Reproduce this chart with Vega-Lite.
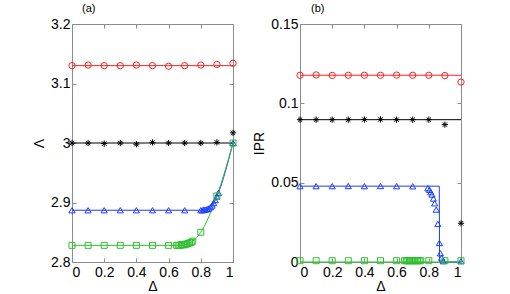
{
  "$schema": "https://vega.github.io/schema/vega-lite/v6.json",
  "padding": {"left": 32, "top": 2, "right": 5, "bottom": 0},
  "spacing": 13,
  "config": {
    "view": {"stroke": "#8c8c8c", "strokeWidth": 1},
    "font": "Liberation Sans",
    "axis": {"domain": false, "grid": false, "ticks": true, "tickSize": -4, "tickColor": "#8c8c8c", "labelFont": "Liberation Sans", "labelFontSize": 14, "labelColor": "#000", "labelPadding": 6, "titleFont": "Liberation Sans", "titleFontSize": 14, "titleFontWeight": "normal", "titleColor": "#000", "titlePadding": 4},
    "axisBottom": {"labelPadding": 7, "titlePadding": 0},
    "title": {"fontSize": 11, "fontWeight": "normal", "anchor": "start", "frame": "group", "font": "Liberation Sans", "color": "#000"}
  },
  "datasets": {
    "d": [
      {"p":"a","k":"l","s":"r","x":0,"y":3.13},{"p":"a","k":"l","s":"r","x":1,"y":3.13},
      {"p":"a","k":"l","s":"k","x":0,"y":3.0},{"p":"a","k":"l","s":"k","x":1,"y":3.0},
      {"p":"a","k":"l","s":"b","x":0,"y":2.887},{"p":"a","k":"l","s":"b","x":0.8,"y":2.887},{"p":"a","k":"l","s":"b","x":0.83,"y":2.888},{"p":"a","k":"l","s":"b","x":0.86,"y":2.892},{"p":"a","k":"l","s":"b","x":0.88,"y":2.899},{"p":"a","k":"l","s":"b","x":0.9,"y":2.91},{"p":"a","k":"l","s":"b","x":1,"y":3.0},
      {"p":"a","k":"l","s":"g","x":0,"y":2.828},{"p":"a","k":"l","s":"g","x":0.65,"y":2.828},{"p":"a","k":"l","s":"g","x":0.7,"y":2.829},{"p":"a","k":"l","s":"g","x":0.75,"y":2.835},{"p":"a","k":"l","s":"g","x":0.8,"y":2.85},{"p":"a","k":"l","s":"g","x":0.9,"y":2.911},{"p":"a","k":"l","s":"g","x":1,"y":3.0},

      {"p":"a","k":"p","s":"r","x":0,"y":3.13},{"p":"a","k":"p","s":"r","x":0.1,"y":3.131},{"p":"a","k":"p","s":"r","x":0.2,"y":3.13},{"p":"a","k":"p","s":"r","x":0.3,"y":3.13},{"p":"a","k":"p","s":"r","x":0.4,"y":3.131},{"p":"a","k":"p","s":"r","x":0.5,"y":3.13},{"p":"a","k":"p","s":"r","x":0.6,"y":3.129},{"p":"a","k":"p","s":"r","x":0.7,"y":3.13},{"p":"a","k":"p","s":"r","x":0.8,"y":3.131},{"p":"a","k":"p","s":"r","x":0.9,"y":3.132},{"p":"a","k":"p","s":"r","x":1,"y":3.134},
      {"p":"a","k":"p","s":"k","x":0,"y":3.0},{"p":"a","k":"p","s":"k","x":0.1,"y":3.0},{"p":"a","k":"p","s":"k","x":0.2,"y":2.999},{"p":"a","k":"p","s":"k","x":0.3,"y":3.0},{"p":"a","k":"p","s":"k","x":0.4,"y":2.998},{"p":"a","k":"p","s":"k","x":0.5,"y":3.001},{"p":"a","k":"p","s":"k","x":0.6,"y":3.0},{"p":"a","k":"p","s":"k","x":0.7,"y":3.0},{"p":"a","k":"p","s":"k","x":0.8,"y":3.0},{"p":"a","k":"p","s":"k","x":0.9,"y":3.001},{"p":"a","k":"p","s":"k","x":1,"y":3.017},
      {"p":"a","k":"p","s":"b","x":0,"y":2.887},{"p":"a","k":"p","s":"b","x":0.1,"y":2.887},{"p":"a","k":"p","s":"b","x":0.2,"y":2.887},{"p":"a","k":"p","s":"b","x":0.3,"y":2.887},{"p":"a","k":"p","s":"b","x":0.4,"y":2.887},{"p":"a","k":"p","s":"b","x":0.5,"y":2.887},{"p":"a","k":"p","s":"b","x":0.6,"y":2.887},{"p":"a","k":"p","s":"b","x":0.7,"y":2.887},
      {"p":"a","k":"p","s":"b","x":0.8,"y":2.887},{"p":"a","k":"p","s":"b","x":0.81,"y":2.887},{"p":"a","k":"p","s":"b","x":0.82,"y":2.888},{"p":"a","k":"p","s":"b","x":0.83,"y":2.888},{"p":"a","k":"p","s":"b","x":0.84,"y":2.889},{"p":"a","k":"p","s":"b","x":0.85,"y":2.89},{"p":"a","k":"p","s":"b","x":0.86,"y":2.892},{"p":"a","k":"p","s":"b","x":0.87,"y":2.895},{"p":"a","k":"p","s":"b","x":0.88,"y":2.899},{"p":"a","k":"p","s":"b","x":0.89,"y":2.904},{"p":"a","k":"p","s":"b","x":0.9,"y":2.91},{"p":"a","k":"p","s":"b","x":0.91,"y":2.916},{"p":"a","k":"p","s":"b","x":1,"y":3.0},
      {"p":"a","k":"p","s":"g","x":0,"y":2.828},{"p":"a","k":"p","s":"g","x":0.1,"y":2.828},{"p":"a","k":"p","s":"g","x":0.2,"y":2.828},{"p":"a","k":"p","s":"g","x":0.3,"y":2.828},{"p":"a","k":"p","s":"g","x":0.4,"y":2.828},{"p":"a","k":"p","s":"g","x":0.5,"y":2.828},{"p":"a","k":"p","s":"g","x":0.6,"y":2.828},
      {"p":"a","k":"p","s":"g","x":0.65,"y":2.828},{"p":"a","k":"p","s":"g","x":0.66,"y":2.828},{"p":"a","k":"p","s":"g","x":0.67,"y":2.828},{"p":"a","k":"p","s":"g","x":0.68,"y":2.829},{"p":"a","k":"p","s":"g","x":0.69,"y":2.829},{"p":"a","k":"p","s":"g","x":0.7,"y":2.829},{"p":"a","k":"p","s":"g","x":0.71,"y":2.83},{"p":"a","k":"p","s":"g","x":0.72,"y":2.831},{"p":"a","k":"p","s":"g","x":0.73,"y":2.832},{"p":"a","k":"p","s":"g","x":0.74,"y":2.833},{"p":"a","k":"p","s":"g","x":0.75,"y":2.835},
      {"p":"a","k":"p","s":"g","x":0.8,"y":2.85},{"p":"a","k":"p","s":"g","x":0.9,"y":2.911},{"p":"a","k":"p","s":"g","x":1,"y":3.0},

      {"p":"b","k":"l","s":"r","x":0,"y":0.1177},{"p":"b","k":"l","s":"r","x":1,"y":0.1177},
      {"p":"b","k":"l","s":"k","x":0,"y":0.0897},{"p":"b","k":"l","s":"k","x":1,"y":0.0897},
      {"p":"b","k":"l","s":"b","x":0,"y":0.0478},{"p":"b","k":"l","s":"b","x":0.865,"y":0.0478},{"p":"b","k":"l","s":"b","x":0.867,"y":0},{"p":"b","k":"l","s":"b","x":1,"y":0},
      {"p":"b","k":"l","s":"g","x":0,"y":0},{"p":"b","k":"l","s":"g","x":1,"y":0},

      {"p":"b","k":"p","s":"r","x":0,"y":0.1177},{"p":"b","k":"p","s":"r","x":0.1,"y":0.1179},{"p":"b","k":"p","s":"r","x":0.2,"y":0.1176},{"p":"b","k":"p","s":"r","x":0.3,"y":0.1177},{"p":"b","k":"p","s":"r","x":0.4,"y":0.1177},{"p":"b","k":"p","s":"r","x":0.5,"y":0.1177},{"p":"b","k":"p","s":"r","x":0.6,"y":0.1178},{"p":"b","k":"p","s":"r","x":0.7,"y":0.1177},{"p":"b","k":"p","s":"r","x":0.8,"y":0.1177},{"p":"b","k":"p","s":"r","x":0.9,"y":0.1175},{"p":"b","k":"p","s":"r","x":1,"y":0.1134},
      {"p":"b","k":"p","s":"k","x":0,"y":0.0897},{"p":"b","k":"p","s":"k","x":0.1,"y":0.0897},{"p":"b","k":"p","s":"k","x":0.2,"y":0.0897},{"p":"b","k":"p","s":"k","x":0.3,"y":0.0897},{"p":"b","k":"p","s":"k","x":0.4,"y":0.0898},{"p":"b","k":"p","s":"k","x":0.5,"y":0.0899},{"p":"b","k":"p","s":"k","x":0.6,"y":0.0897},{"p":"b","k":"p","s":"k","x":0.7,"y":0.0897},{"p":"b","k":"p","s":"k","x":0.8,"y":0.0897},{"p":"b","k":"p","s":"k","x":0.9,"y":0.0866},{"p":"b","k":"p","s":"k","x":1,"y":0.0244},
      {"p":"b","k":"p","s":"b","x":0,"y":0.0478},{"p":"b","k":"p","s":"b","x":0.1,"y":0.0478},{"p":"b","k":"p","s":"b","x":0.2,"y":0.0478},{"p":"b","k":"p","s":"b","x":0.3,"y":0.0479},{"p":"b","k":"p","s":"b","x":0.4,"y":0.0478},{"p":"b","k":"p","s":"b","x":0.5,"y":0.0479},{"p":"b","k":"p","s":"b","x":0.6,"y":0.0478},{"p":"b","k":"p","s":"b","x":0.7,"y":0.0477},
      {"p":"b","k":"p","s":"b","x":0.794,"y":0.0465},{"p":"b","k":"p","s":"b","x":0.804,"y":0.0455},{"p":"b","k":"p","s":"b","x":0.812,"y":0.044},{"p":"b","k":"p","s":"b","x":0.82,"y":0.0425},{"p":"b","k":"p","s":"b","x":0.829,"y":0.04},{"p":"b","k":"p","s":"b","x":0.836,"y":0.037},{"p":"b","k":"p","s":"b","x":0.846,"y":0.033},{"p":"b","k":"p","s":"b","x":0.856,"y":0.024},{"p":"b","k":"p","s":"b","x":0.866,"y":0.012},{"p":"b","k":"p","s":"b","x":0.872,"y":0.0055},{"p":"b","k":"p","s":"b","x":0.88,"y":0.0028},{"p":"b","k":"p","s":"b","x":0.89,"y":0.0005},{"p":"b","k":"p","s":"b","x":1,"y":0.0005},
      {"p":"b","k":"p","s":"g","x":0,"y":0.0008},{"p":"b","k":"p","s":"g","x":0.1,"y":0.0008},{"p":"b","k":"p","s":"g","x":0.2,"y":0.0008},{"p":"b","k":"p","s":"g","x":0.3,"y":0.0008},{"p":"b","k":"p","s":"g","x":0.4,"y":0.0008},{"p":"b","k":"p","s":"g","x":0.5,"y":0.0008},{"p":"b","k":"p","s":"g","x":0.6,"y":0.0008},
      {"p":"b","k":"p","s":"g","x":0.65,"y":0.0008},{"p":"b","k":"p","s":"g","x":0.66,"y":0.0008},{"p":"b","k":"p","s":"g","x":0.67,"y":0.0008},{"p":"b","k":"p","s":"g","x":0.68,"y":0.0008},{"p":"b","k":"p","s":"g","x":0.69,"y":0.0008},{"p":"b","k":"p","s":"g","x":0.7,"y":0.0008},{"p":"b","k":"p","s":"g","x":0.71,"y":0.0008},{"p":"b","k":"p","s":"g","x":0.72,"y":0.0008},{"p":"b","k":"p","s":"g","x":0.73,"y":0.0008},{"p":"b","k":"p","s":"g","x":0.74,"y":0.0008},{"p":"b","k":"p","s":"g","x":0.75,"y":0.0008},
      {"p":"b","k":"p","s":"g","x":0.8,"y":0.0008},{"p":"b","k":"p","s":"g","x":0.9,"y":0.0008},{"p":"b","k":"p","s":"g","x":1,"y":0.0008}
    ]
  },
  "hconcat": [
    {
      "width": 161, "height": 238,
      "title": {"text": "(a)", "dx": 10, "offset": 3},
      "data": {"name": "d"},
      "transform": [{"filter": "datum.p == 'a'"}],
      "layer": [
        {
          "transform": [{"filter": "datum.k == 'l'"}],
          "mark": {"type": "line", "strokeWidth": 1, "interpolate": "monotone"},
          "encoding": {
            "x": {"field": "x", "type": "quantitative", "scale": {"domain": [0, 1]}, "axis": {"orient": "bottom", "values": [0, 0.2, 0.4, 0.6, 0.8, 1], "labelExpr": "'' + datum.value", "title": "Δ"}},
            "y": {"field": "y", "type": "quantitative", "scale": {"domain": [2.8, 3.2], "zero": false}, "axis": {"orient": "left", "values": [2.8, 2.9, 3, 3.1, 3.2], "labelExpr": "'' + datum.value", "title": "Λ"}},
            "color": {"field": "s", "type": "nominal", "scale": {"domain": ["r", "k", "b", "g"], "range": ["#ff2020", "#000000", "#1a3cff", "#2fbf2f"]}, "legend": null}
          }
        },
        {
          "transform": [{"filter": "datum.k == 'p'"}],
          "mark": {"type": "point", "filled": false, "strokeWidth": 1, "opacity": 1},
          "encoding": {
            "x": {"field": "x", "type": "quantitative", "scale": {"domain": [0, 1]}, "axis": {"orient": "top", "values": [0, 0.2, 0.4, 0.6, 0.8, 1], "labels": false, "title": null}},
            "y": {"field": "y", "type": "quantitative", "scale": {"domain": [2.8, 3.2], "zero": false}, "axis": {"orient": "right", "values": [2.8, 2.9, 3, 3.1, 3.2], "labels": false, "title": null}},
            "color": {"field": "s", "type": "nominal", "scale": {"domain": ["r", "k", "b", "g"], "range": ["#ff2020", "#000000", "#1a3cff", "#2fbf2f"]}, "legend": null},
            "shape": {"field": "s", "type": "nominal", "scale": {"domain": ["r", "k", "b", "g"], "range": ["circle", "M-1,0L1,0M0,-1L0,1M-0.7,-0.7L0.7,0.7M-0.7,0.7L0.7,-0.7", "triangle-up", "square"]}, "legend": null},
            "size": {"field": "s", "type": "nominal", "scale": {"domain": ["r", "k", "b", "g"], "range": [40, 36, 45, 26]}, "legend": null}
          }
        }
      ],
      "resolve": {"axis": {"x": "independent", "y": "independent"}}
    },
    {
      "width": 161, "height": 238,
      "title": {"text": "(b)", "dx": 11, "offset": 3},
      "data": {"name": "d"},
      "transform": [{"filter": "datum.p == 'b'"}],
      "layer": [
        {
          "transform": [{"filter": "datum.k == 'l'"}],
          "mark": {"type": "line", "strokeWidth": 1},
          "encoding": {
            "x": {"field": "x", "type": "quantitative", "scale": {"domain": [0, 1]}, "axis": {"orient": "bottom", "values": [0, 0.2, 0.4, 0.6, 0.8, 1], "labelExpr": "'' + datum.value", "title": "Δ"}},
            "y": {"field": "y", "type": "quantitative", "scale": {"domain": [0, 0.15]}, "axis": {"orient": "left", "values": [0, 0.05, 0.1, 0.15], "labelExpr": "'' + datum.value", "title": "IPR"}},
            "color": {"field": "s", "type": "nominal", "scale": {"domain": ["r", "k", "b", "g"], "range": ["#ff2020", "#000000", "#1a3cff", "#2fbf2f"]}, "legend": null}
          }
        },
        {
          "transform": [{"filter": "datum.k == 'p'"}],
          "mark": {"type": "point", "filled": false, "strokeWidth": 1, "opacity": 1},
          "encoding": {
            "x": {"field": "x", "type": "quantitative", "scale": {"domain": [0, 1]}, "axis": {"orient": "top", "values": [0, 0.2, 0.4, 0.6, 0.8, 1], "labels": false, "title": null}},
            "y": {"field": "y", "type": "quantitative", "scale": {"domain": [0, 0.15]}, "axis": {"orient": "right", "values": [0, 0.05, 0.1, 0.15], "labels": false, "title": null}},
            "color": {"field": "s", "type": "nominal", "scale": {"domain": ["r", "k", "b", "g"], "range": ["#ff2020", "#000000", "#1a3cff", "#2fbf2f"]}, "legend": null},
            "shape": {"field": "s", "type": "nominal", "scale": {"domain": ["r", "k", "b", "g"], "range": ["circle", "M-1,0L1,0M0,-1L0,1M-0.7,-0.7L0.7,0.7M-0.7,0.7L0.7,-0.7", "triangle-up", "square"]}, "legend": null},
            "size": {"field": "s", "type": "nominal", "scale": {"domain": ["r", "k", "b", "g"], "range": [40, 36, 45, 26]}, "legend": null}
          }
        }
      ],
      "resolve": {"axis": {"x": "independent", "y": "independent"}}
    }
  ]
}
